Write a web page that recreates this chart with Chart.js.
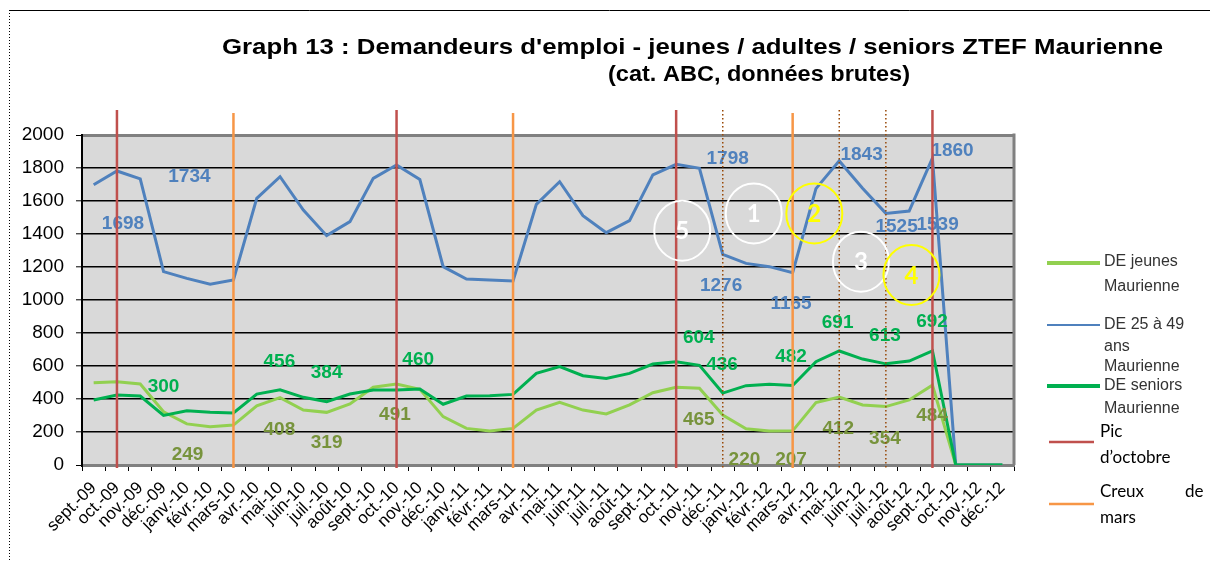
<!DOCTYPE html>
<html>
<head>
<meta charset="utf-8">
<script src="https://cdn.jsdelivr.net/npm/chart.js@4.4.0/dist/chart.umd.min.js"></script>
<style>
  html, body { margin: 0; padding: 0; background: #fff; }
  #wrap { position: relative; width: 1210px; height: 562px; }
</style>
</head>
<body>
<div id="wrap"><canvas id="chartDE"></canvas></div>
<script>
/**
 * Données : demandeurs d'emploi ZTEF Maurienne (cat. ABC)
 */
const months = [
    'sept.-09', 'oct.-09', 'nov.-09', 'déc.-09',
    'janv.-10', 'févr.-10', 'mars-10', 'avr.-10', 'mai-10', 'juin-10', 'juil.-10', 'août-10', 'sept.-10', 'oct.-10', 'nov.-10', 'déc.-10',
    'janv.-11', 'févr.-11', 'mars-11', 'avr.-11', 'mai-11', 'juin-11', 'juil.-11', 'août-11', 'sept.-11', 'oct.-11', 'nov.-11', 'déc.-11',
    'janv.-12', 'févr.-12', 'mars-12', 'avr.-12', 'mai-12', 'juin-12', 'juil.-12', 'août-12', 'sept.-12', 'oct.-12', 'nov.-12', 'déc.-12'
];

const deJeunes = [
    499, 505, 491, 323,
    249, 232, 242, 358, 408, 333, 319, 370, 471, 491, 459, 293,
    222, 206, 222, 333, 380, 333, 309, 364, 438, 471, 465, 303,
    220, 206, 207, 378, 412, 364, 354, 394, 484, 0, 0, 0
];

const de25a49 = [
    1698, 1782, 1734, 1172,
    1131, 1095, 1121, 1616, 1747, 1545, 1390, 1475, 1737, 1818, 1730, 1202,
    1127, 1121, 1115, 1580, 1717, 1511, 1408, 1481, 1758, 1822, 1798, 1276,
    1222, 1202, 1165, 1675, 1843, 1677, 1525, 1539, 1860, 0, 0, 0
];

const deSeniors = [
    394, 424, 418, 300,
    329, 319, 315, 430, 456, 410, 384, 430, 455, 455, 460, 368,
    418, 420, 428, 555, 596, 541, 525, 555, 612, 626, 604, 436,
    481, 489, 482, 626, 691, 642, 613, 630, 692, 0, 0, 0
];

const yTicks = [0, 200, 400, 600, 800, 1000, 1200, 1400, 1600, 1800, 2000];

// repères verticaux
const picsOctobre = ['oct.-09', 'oct.-10', 'oct.-11', 'sept.-12'];
const creuxMars = ['mars-10', 'mars-11', 'mars-12'];
const jalons = ['déc.-11', 'mai-12', 'juil.-12'];

// étiquettes de valeurs : [série, mois, position x (rang), position y (valeur)]
const labelPlacement = [
    ['adultes', 0, 1.26, 1465], ['adultes', 2, 4.11, 1747], ['adultes', 26, 27.21, 1853],
    ['adultes', 27, 26.93, 1085], ['adultes', 30, 29.93, 980], ['adultes', 32, 32.96, 1883],
    ['adultes', 34, 34.46, 1444], ['adultes', 35, 36.22, 1455], ['adultes', 36, 36.86, 1905],
    ['seniors', 3, 3.0, 475], ['seniors', 8, 7.97, 626], ['seniors', 10, 10.0, 559],
    ['seniors', 14, 13.93, 636], ['seniors', 26, 25.97, 774], ['seniors', 27, 26.97, 610],
    ['seniors', 30, 29.93, 656], ['seniors', 32, 31.93, 862], ['seniors', 34, 33.96, 782],
    ['seniors', 36, 35.98, 868],
    ['jeunes', 4, 4.03, 61], ['jeunes', 8, 7.97, 216], ['jeunes', 10, 10.0, 135],
    ['jeunes', 13, 12.93, 303], ['jeunes', 26, 25.97, 277], ['jeunes', 28, 27.93, 30],
    ['jeunes', 30, 29.93, 30], ['jeunes', 32, 31.96, 222], ['jeunes', 34, 33.96, 162],
    ['jeunes', 36, 35.98, 297]
];

// cercles numérotés : [numéro, x (rang), y (valeur), couleur]
const cercles = [
    ['5', 25.26, 1420, '#ffffff'], ['1', 28.33, 1525, '#ffffff'], ['2', 30.93, 1525, '#ffff00'],
    ['3', 32.93, 1232, '#ffffff'], ['4', 35.1, 1152, '#ffff00']
];

const seriesValues = { jeunes: deJeunes, adultes: de25a49, seniors: deSeniors };
const seriesColors = { jeunes: '#77933c', adultes: '#4f81bd', seniors: '#00b050' };

const decor = {
    id: 'decor',
    beforeDraw(chart) {
        const { ctx, chartArea: a } = chart;
        ctx.save();
        ctx.fillStyle = '#d9d9d9';
        ctx.fillRect(a.left, a.top, a.right - a.left, a.bottom - a.top);
        ctx.restore();
    },
    beforeDatasetsDraw(chart) {
        const { ctx, chartArea: a } = chart;
        ctx.save();
        ctx.strokeStyle = '#808080';
        ctx.lineWidth = 3;
        ctx.beginPath();
        ctx.moveTo(a.right, a.top - 1.5);
        ctx.lineTo(a.right, a.bottom);
        ctx.stroke();
        ctx.restore();
    },
    afterDatasetsDraw(chart) {
        const { ctx, chartArea: a } = chart;
        const xs = chart.scales.x, ys = chart.scales.y;
        ctx.save();

        // étiquettes
        ctx.font = 'bold 19px "Liberation Sans"';
        ctx.textAlign = 'center';
        ctx.textBaseline = 'middle';
        labelPlacement.forEach(([serie, i, px, py]) => {
            ctx.fillStyle = seriesColors[serie];
            ctx.fillText(String(seriesValues[serie][i]), xs.getPixelForValue(px), ys.getPixelForValue(py));
        });

        // lignes verticales
        const vline = (label, color, width, top, dash) => {
            const x = xs.getPixelForValue(months.indexOf(label));
            ctx.strokeStyle = color;
            ctx.lineWidth = width;
            ctx.setLineDash(dash);
            ctx.beginPath();
            ctx.moveTo(x, a.top - top);
            ctx.lineTo(x, a.bottom + 3);
            ctx.stroke();
        };
        jalons.forEach(m => vline(m, '#984807', 1.5, 25, [1.5, 2.5]));
        creuxMars.forEach(m => vline(m, '#f79646', 2.5, 22, []));
        picsOctobre.forEach(m => vline(m, '#c0504d', 2.5, 25, []));
        ctx.setLineDash([]);

        // cercles
        ctx.font = 'bold 24px Lato';
        cercles.forEach(([txt, px, py, color]) => {
            const x = xs.getPixelForValue(px), y = ys.getPixelForValue(py);
            ctx.strokeStyle = color;
            ctx.lineWidth = 2;
            ctx.beginPath();
            ctx.ellipse(x, y, 28, 30, 0, 0, Math.PI * 2);
            ctx.stroke();
            ctx.fillStyle = color;
            ctx.fillText(txt, x, y + 1);
        });
        ctx.restore();
    },
    afterDraw(chart) {
        const { ctx } = chart;
        ctx.save();

        // cadre
        ctx.strokeStyle = '#000';
        ctx.lineWidth = 1;
        ctx.beginPath();
        ctx.moveTo(9, 10.5);
        ctx.lineTo(1210, 10.5);
        ctx.stroke();
        ctx.setLineDash([1, 2]);
        ctx.beginPath();
        ctx.moveTo(9.5, 10);
        ctx.lineTo(9.5, 562);
        ctx.stroke();
        ctx.setLineDash([]);

        // titre
        ctx.fillStyle = '#000';
        ctx.textBaseline = 'middle';
        ctx.textAlign = 'left';
        ctx.font = 'bold 22px "Liberation Sans"';
        const fitText = (txt, x0, x1, y) => {
            const w = ctx.measureText(txt).width;
            ctx.save();
            ctx.translate(x0, y);
            ctx.scale((x1 - x0) / w, 1);
            ctx.fillText(txt, 0, 0);
            ctx.restore();
        };
        fitText("Graph 13 : Demandeurs d'emploi - jeunes / adultes / seniors ZTEF Maurienne", 222, 1163, 48);
        fitText('(cat. ABC, données brutes)', 608, 910, 75);

        // légende
        const leg = (color, width, x0, x1, y) => {
            ctx.strokeStyle = color;
            ctx.lineWidth = width;
            ctx.beginPath();
            ctx.moveTo(x0, y);
            ctx.lineTo(x1, y);
            ctx.stroke();
        };
        leg('#92d050', 4, 1047, 1100, 263);
        leg('#4f81bd', 2, 1047, 1100, 325);
        leg('#00b050', 4, 1047, 1100, 386);
        leg('#c0504d', 2.5, 1049, 1094, 442);
        leg('#f79646', 2.5, 1049, 1094, 504);

        ctx.fillStyle = '#333';
        ctx.font = '16px "Liberation Sans"';
        [['DE jeunes', 262], ['Maurienne', 287], ['DE 25 à 49', 325], ['ans', 347],
         ['Maurienne', 367], ['DE seniors', 386], ['Maurienne', 409]].forEach(([t, y]) => ctx.fillText(t, 1104, y));

        ctx.fillStyle = '#000';
        ctx.font = '17px Lato';
        [['Pic', 432], ['d\u2019octobre', 458], ['Creux', 492], ['mars', 518]].forEach(([t, y]) => ctx.fillText(t, 1100, y));
        ctx.fillText('de', 1185, 492);
        ctx.restore();
    }
};

function renderChart() {
    const ctx = document.getElementById('chartDE').getContext('2d');
    new Chart(ctx, {
        type: 'line',
        data: {
            labels: months,
            datasets: [
                { label: 'DE jeunes Maurienne', data: deJeunes, borderColor: '#92d050', borderWidth: 3, order: 2 },
                { label: 'DE 25 à 49 ans Maurienne', data: de25a49, borderColor: '#4f81bd', borderWidth: 3, order: 1 },
                { label: 'DE seniors Maurienne', data: deSeniors, borderColor: '#00b050', borderWidth: 3, order: 0 }
            ]
        },
        options: {
            responsive: true,
            maintainAspectRatio: false,
            animation: false,
            elements: { point: { radius: 0 }, line: { tension: 0 } },
            layout: { padding: { left: 0, right: 196, top: 135, bottom: 0 } },
            plugins: { legend: { display: false }, tooltip: { enabled: false } },
            scales: {
                x: {
                    offset: true,
                    afterFit: s => { s.height = 97; },
                    grid: { offset: true, drawOnChartArea: false, tickLength: 6, tickColor: '#000', tickWidth: 1 },
                    border: { color: '#808080', width: 3 },
                    ticks: {
                        autoSkip: false, maxRotation: 45, minRotation: 45,
                        color: '#000', font: { family: 'Liberation Sans', size: 17 }, padding: 7
                    }
                },
                y: {
                    min: 0, max: 2000,
                    afterFit: s => { s.width = 82; },
                    afterBuildTicks: s => { s.ticks = yTicks.map(v => ({ value: v })); },
                    grid: {
                        color: c => (c.tick.value === 0 || c.tick.value === 2000) ? '#808080' : '#000',
                        lineWidth: c => (c.tick.value === 0 || c.tick.value === 2000) ? 3 : 1.6,
                        tickLength: 6, tickColor: '#000', tickWidth: 1
                    },
                    border: { color: '#000', width: 2 },
                    ticks: {
                        color: '#000', font: { family: 'Liberation Sans', size: 19 }, padding: 12,
                        callback: v => String(v)
                    }
                }
            }
        },
        plugins: [decor]
    });
}

document.addEventListener('DOMContentLoaded', renderChart);
</script>
</body>
</html>
